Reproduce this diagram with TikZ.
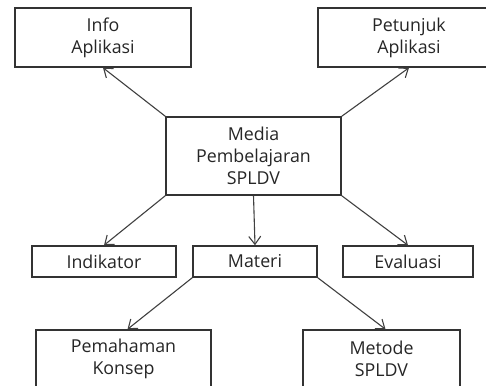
\documentclass[tikz,border=0pt]{standalone}
\usepackage{fontspec}
\setmainfont{Open Sans}
\usetikzlibrary{arrows.meta}
\begin{document}
\begin{tikzpicture}[x=0.5pt, y=-0.5pt,
        kotak/.style={draw=black!80, line width=0.75pt, fill=white, align=center, inner sep=1pt,
            font=\fontsize{8.9}{11}\selectfont, text=black!85},
        panah/.style={draw=black!75, line width=0.55pt, -{Straight Barb[length=4pt, width=6pt]}}]
    \useasboundingbox (0,0) rectangle (486,385);
    \node[kotak, minimum width=88pt, minimum height=29.5pt] (info) at (103,37.5) {Info\\Aplikasi};
    \node[kotak, minimum width=91pt, minimum height=29.5pt] (petunjuk) at (409,37.5) {Petunjuk\\Aplikasi};
    \node[kotak, minimum width=87.5pt, minimum height=39pt] (media) at (253.5,156) {Media\\Pembelajaran\\SPLDV};
    \node[kotak, minimum width=72pt, minimum height=15.5pt] (indikator) at (104,261.5) {Indikator};
    \node[kotak, minimum width=62pt, minimum height=15.5pt] (materi) at (255,261.5) {Materi};
    \node[kotak, minimum width=65pt, minimum height=15.5pt] (evaluasi) at (408,261.5) {Evaluasi};
    \node[kotak, minimum width=87.5pt, minimum height=29pt] (pemahaman) at (123.5,359) {Pemahaman\\Konsep};
    \node[kotak, minimum width=78.5pt, minimum height=29pt] (metode) at (381.5,359) {Metode\\SPLDV};
    \draw[panah] (media.north west) -- (info.south);
    \draw[panah] (media.north east) -- (petunjuk.south);
    \draw[panah] (media.south west) -- (indikator.north);
    \draw[panah] (media.south) -- (materi.north);
    \draw[panah] (media.south east) -- (evaluasi.north);
    \draw[panah] (materi.south west) -- ([xshift=2pt]pemahaman.north);
    \draw[panah] (materi.south east) -- ([xshift=2pt]metode.north);
\end{tikzpicture}
\end{document}
